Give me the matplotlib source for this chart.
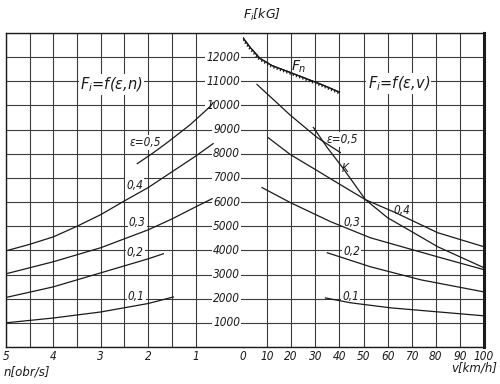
import matplotlib
matplotlib.use("Agg")
import matplotlib.pyplot as plt
import matplotlib.patheffects as pe

# left half: F_i = f(eps, n), n in obr/s
n_eps05 = [2.23, 1.9, 1.6, 1.11, 0.69, 0.63]
f_n_eps05 = [7590, 8030, 8460, 9210, 9960, 10120]
n_eps04 = [5, 4.5, 4, 3.5, 3, 2.5, 2, 1.5, 1, 0.63]
f_n_eps04 = [3980, 4250, 4560, 5000, 5480, 6050, 6600, 7250, 7900, 8420]
n_eps03 = [5, 4, 3, 2, 1.5, 1, 0.65]
f_n_eps03 = [3030, 3530, 4110, 4850, 5300, 5800, 6140]
n_eps02 = [5, 4, 3, 2, 1.68]
f_n_eps02 = [2050, 2490, 3070, 3650, 3860]
n_eps01 = [5, 4, 3, 2, 1.47]
f_n_eps01 = [1000, 1200, 1450, 1800, 2070]

# right half: F_i = f(eps, v), v in km/h
v_fn = [0, 3, 7, 12, 20, 27, 33, 40]
f_fn = [12800, 12400, 11950, 11650, 11350, 11080, 10850, 10550]
v_eps05 = [5.8, 12, 19.6, 25, 30.8, 40.4]
f_v_eps05 = [10870, 10300, 9600, 9150, 8670, 8050]
v_k = [29.2, 35, 41.3, 50.8, 60, 70.8, 80.8, 100]
f_k = [9090, 8250, 7430, 6100, 5350, 4730, 4150, 3280]
v_eps04 = [10.4, 19.6, 30.8, 40.4, 50.8, 63.3, 80.8, 100]
f_v_eps04 = [8670, 7970, 7300, 6720, 6100, 5560, 4730, 4150]
v_eps03 = [7.9, 19.6, 36.3, 52.9, 80.8, 100]
f_v_eps03 = [6600, 5980, 5190, 4520, 3730, 3200]
v_eps02 = [35, 52.9, 73.8, 100]
f_v_eps02 = [3900, 3320, 2780, 2280]
v_eps01 = [34.2, 44.6, 61.3, 100]
f_v_eps01 = [2030, 1830, 1620, 1290]

f_ticks = list(range(1000, 13000, 1000))
n_ticks = [5, 4, 3, 2, 1]
v_ticks = list(range(0, 101, 10))

ink = "#1a1a1a"
grid_c = "#3c3c3c"
lab = dict(style="italic", fontsize=8.5, color=ink, fontstretch="condensed")
box = dict(facecolor="white", edgecolor="none", pad=0.8)

fig = plt.figure(figsize=(5, 3.84), dpi=100)
ax_n = fig.add_axes([0.012, 0.0964, 0.474, 0.8177])
ax_v = fig.add_axes([0.486, 0.0964, 0.482, 0.8177], sharey=ax_n)

ax_n.set_xlim(5, 0)
ax_v.set_xlim(0, 100)
ax_n.set_ylim(0, 13000)

for ax in (ax_n, ax_v):
    ax.set_yticks(range(0, 14000, 1000))
    ax.tick_params(length=0, which="both", labelleft=False, pad=2,
                   labelsize=8.5, labelcolor=ink)
    ax.grid(True, which="both", color=grid_c, lw=0.8)
    for s in ax.spines.values():
        s.set_color(ink)
        s.set_linewidth(1.0)

ax_n.set_xticks(n_ticks)
ax_n.set_xticks([4.5, 3.5, 2.5, 1.5], minor=True)
ax_n.spines["right"].set_visible(False)
ax_v.set_xticks(v_ticks)
ax_v.get_xgridlines()[0].set_visible(False)
ax_v.spines["left"].set_visible(False)
ax_v.spines["right"].set_linewidth(2.2)
for t in ax_n.get_xticklabels() + ax_v.get_xticklabels():
    t.set_style("italic")
    t.set_fontstretch("condensed")

# curves
for xs, ys in [(n_eps05, f_n_eps05), (n_eps04, f_n_eps04), (n_eps03, f_n_eps03),
               (n_eps02, f_n_eps02), (n_eps01, f_n_eps01)]:
    ax_n.plot(xs, ys, color=ink, lw=0.9, zorder=3)
for xs, ys in [(v_eps05, f_v_eps05), (v_k, f_k), (v_eps04, f_v_eps04),
               (v_eps03, f_v_eps03), (v_eps02, f_v_eps02), (v_eps01, f_v_eps01)]:
    ax_v.plot(xs, ys, color=ink, lw=0.9, zorder=3)
# limit line F_n, hatched on its lower side
ax_v.plot(v_fn, f_fn, color=ink, lw=0.9, zorder=3,
          path_effects=[pe.Stroke(), pe.withTickedStroke(angle=-70, spacing=2.4, length=0.5)])

# force scale in the middle
for val in f_ticks:
    ax_n.text(0.06, val, str(val), ha="right", va="center", bbox=box, zorder=2.5, **lab)

# curve labels
for x, y, s in [(2.06, 8470, "ε=0,5"), (2.29, 6680, "0,4"), (2.23, 5150, "0,3"),
                (2.27, 3900, "0,2"), (2.25, 2075, "0,1")]:
    ax_n.text(x, y, s, ha="center", va="center", bbox=box, zorder=2.5, **lab)
for x, y, s in [(41.3, 8590, "ε=0,5"), (42.5, 7390, "K"), (65.8, 5640, "0,4"),
                (45, 5150, "0,3"), (45, 3940, "0,2"), (44.6, 2075, "0,1")]:
    ax_v.text(x, y, s, ha="center", va="center", bbox=box, zorder=2.5, **lab)
ax_v.text(23.3, 11620, "$F_n$", ha="center", va="center", fontsize=10, color=ink, zorder=4)

ax_n.text(2.77, 10870, "$F_i$=f(ε,n)", ha="center", va="center", fontsize=10.5,
          style="italic", color=ink, bbox=box, zorder=2.5)
ax_v.text(64.6, 10910, "$F_i$=f(ε,v)", ha="center", va="center", fontsize=10.5,
          style="italic", color=ink, bbox=box, zorder=2.5)

fig.text(262 / 500, 1 - 15 / 384, "$F_i$[kG]", ha="center", va="center",
         fontsize=9, style="italic", color=ink)
fig.text(0.008, 1 - 372 / 384, "n[obr/s]", ha="left", va="center",
         fontsize=8.5, style="italic", color=ink)
fig.text(0.995, 1 - 368 / 384, "v[km/h]", ha="right", va="center",
         fontsize=8.5, style="italic", color=ink)

fig.savefig("out.png", dpi=100, facecolor="white")
